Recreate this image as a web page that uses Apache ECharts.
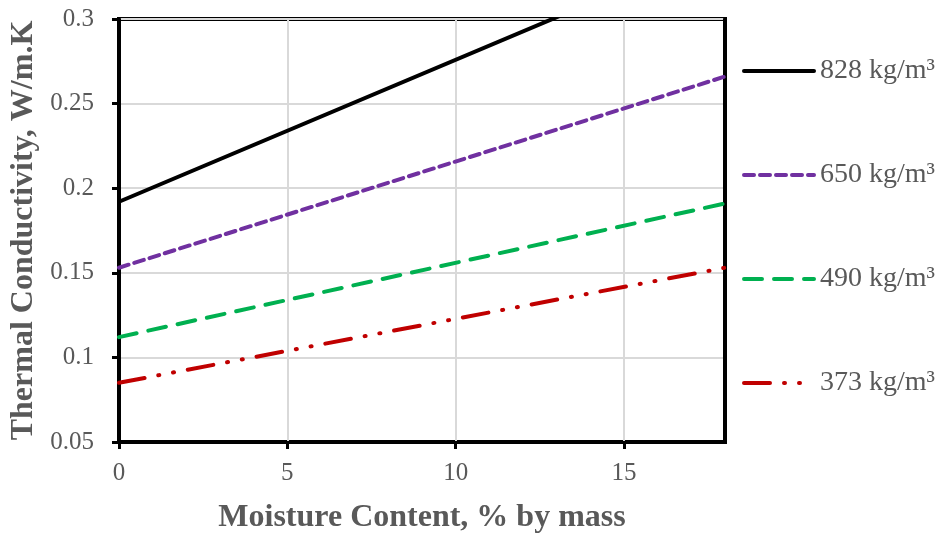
<!DOCTYPE html>
<html>
<head>
<meta charset="utf-8">
<script src="https://cdn.jsdelivr.net/npm/echarts@6/dist/echarts.min.js"></script>
<style>
  html, body { margin: 0; padding: 0; background: #fff; }
  #chart { width: 935px; height: 534px; }
</style>
</head>
<body>
<div id="chart"></div>
<script>
// moisture content (% by mass) at the ends of each fitted line
const moisture = [0, 18];
// thermal conductivity, W/m.K
const k828 = [0.192, 0.343];
const k650 = [0.153, 0.266];
const k490 = [0.112, 0.191];
const k373 = [0.085, 0.153];
const seriesNames = ["828 kg/m³", "650 kg/m³", "490 kg/m³", "373 kg/m³"];

const chart = echarts.init(document.getElementById("chart"));

const toPoints = (vals) => moisture.map((x, i) => [x, vals[i]]);

const serif = "'Liberation Serif', 'Times New Roman', serif";
const grey = "#595959";

const styles = [
  { color: "#000000", type: "solid" },
  { color: "#7030a0", type: [10, 6] },
  { color: "#00b050", type: [18, 12] },
  { color: "#c00000", type: [26, 14, 1, 14, 1, 14] },
];

const option = {
  animation: false,
  grid: {
    left: 119,
    right: 210,
    top: 19,
    bottom: 92,
    containLabel: false,
    outerBoundsMode: "none",
    show: true,
    borderColor: "#000",
    borderWidth: 4,
  },
  legend: {
    orient: "vertical",
    left: 742,
    top: 57,
    padding: 0,
    itemWidth: 70,
    itemHeight: 14,
    itemGap: 76,
    itemStyle: { opacity: 0 },
    lineStyle: { width: 4 },
    textStyle: { fontFamily: serif, fontSize: 28, color: grey, padding: [0, 0, 0, 1] },
    data: seriesNames,
  },
  xAxis: {
    type: "value",
    min: 0,
    max: 18,
    interval: 5,
    name: "Moisture Content, % by mass",
    nameLocation: "middle",
    nameGap: 60,
    nameTextStyle: { fontFamily: serif, fontSize: 32, fontWeight: "bold", color: grey },
    axisLine: { show: true, lineStyle: { color: "#000", width: 3 } },
    axisTick: { show: true, length: 7, lineStyle: { color: "#000", width: 3 } },
    axisLabel: {
      fontFamily: serif,
      fontSize: 25,
      color: grey,
      margin: 19,
      showMaxLabel: false,
    },
    splitLine: { show: true, lineStyle: { color: "#d9d9d9", width: 2 } },
  },
  yAxis: [
    {
      type: "value",
      min: 0.05,
      max: 0.3,
      interval: 0.05,
      name: "Thermal Conductivity, W/m.K",
      nameLocation: "middle",
      nameGap: 79,
      nameTextStyle: { fontFamily: serif, fontSize: 32, fontWeight: "bold", color: grey },
      axisLine: { show: true, lineStyle: { color: "#000", width: 3 } },
      axisTick: { show: true, length: 7, lineStyle: { color: "#000", width: 3 } },
      axisLabel: {
        fontFamily: serif,
        fontSize: 25,
        color: grey,
        margin: 25,
        formatter: (v) => String(+v.toFixed(2)),
      },
      splitLine: { show: true, lineStyle: { color: "#d9d9d9", width: 2 } },
    },
    {
      // right-hand frame edge, drawn over the grey split line at x = 18
      type: "value",
      position: "right",
      min: 0.05,
      max: 0.3,
      interval: 0.05,
      axisLine: { show: true, onZero: false, lineStyle: { color: "#000", width: 4 } },
      axisTick: { show: false },
      axisLabel: { show: false },
      splitLine: { show: false },
    },
  ],
  series: [k828, k650, k490, k373].map((vals, i) => ({
    name: seriesNames[i],
    type: "line",
    data: toPoints(vals),
    showSymbol: false,
    symbol: "none",
    clip: true,
    color: styles[i].color,
    lineStyle: {
      color: styles[i].color,
      type: styles[i].type,
      width: 4,
      cap: "round",
    },
  })),
};

chart.setOption(option);
window.addEventListener("resize", () => chart.resize());
</script>
</body>
</html>
